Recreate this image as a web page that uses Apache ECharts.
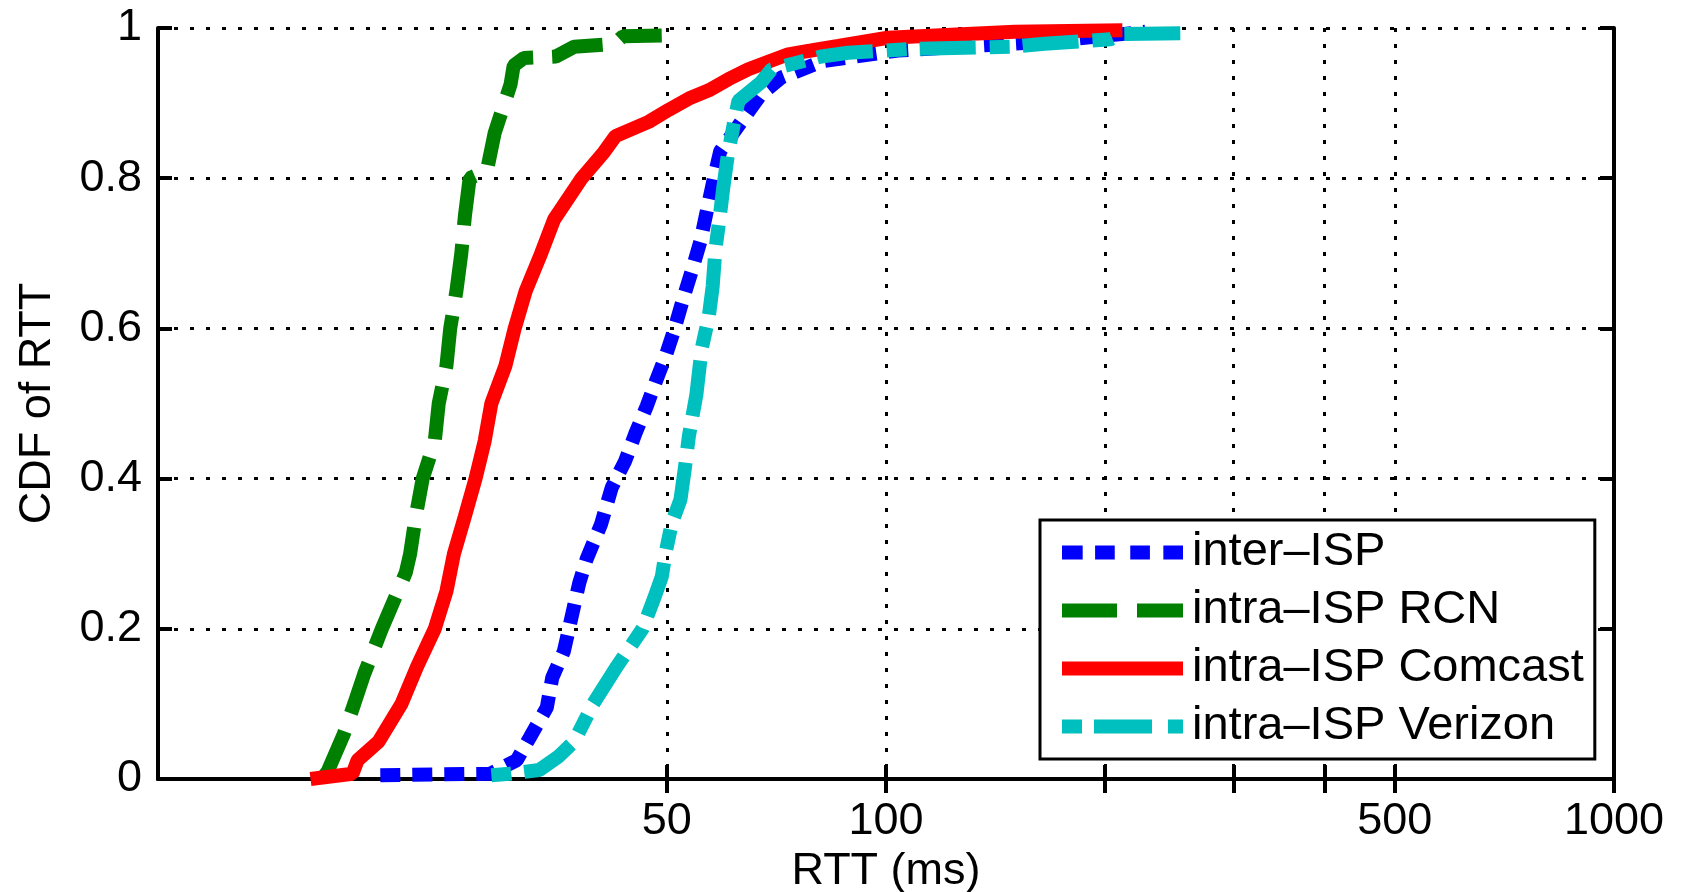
<!DOCTYPE html>
<html>
<head>
    <meta charset="utf-8" />
    <title>CDF of RTT</title>
    <script src="https://cdn.jsdelivr.net/npm/echarts/dist/echarts.min.js"></script>
</head>
<body style="margin:0;background:#fff">
    <div id="main" style="width:1681px;height:892px"></div>
    <script type="text/javascript">

        // RTT (ms) and CDF, one pair of arrays per curve
        var interRtt = [20.2, 28.6, 31.1, 32.4, 34.2, 34.8, 36.1, 37.9, 38.8, 40.6, 42.0, 43.8, 45.3, 46.9, 48.4, 49.8, 51.1, 52.7, 54.2, 55.6, 56.7, 58.0, 59.2, 65.1, 67.4, 71.8, 82.0, 103.8, 166.7, 227.1];
        var interCdf = [0.005, 0.007, 0.025, 0.055, 0.095, 0.135, 0.17, 0.261, 0.293, 0.339, 0.388, 0.423, 0.461, 0.496, 0.532, 0.563, 0.596, 0.641, 0.679, 0.716, 0.755, 0.799, 0.836, 0.892, 0.912, 0.934, 0.956, 0.97, 0.982, 0.995];

        var rcnRtt = [16.8, 17.1, 18.0, 18.6, 19.2, 20.3, 21.9, 22.2, 22.6, 23.1, 24.0, 24.3, 24.9, 25.2, 25.7, 26.1, 26.4, 26.8, 28.3, 29.0, 30.5, 30.8, 31.8, 35.2, 37.3, 42.4, 43.5, 49.2];
        var rcnCdf = [0, 0.01, 0.06, 0.1, 0.14, 0.2, 0.275, 0.3, 0.35, 0.4, 0.45, 0.5, 0.55, 0.6, 0.65, 0.7, 0.75, 0.8, 0.81, 0.86, 0.925, 0.95, 0.96, 0.962, 0.975, 0.979, 0.989, 0.99];

        var comcastRtt = [16.2, 18.5, 18.8, 20.1, 21.6, 22.7, 24.0, 24.9, 25.5, 26.4, 27.3, 28.1, 28.7, 30.0, 30.9, 32.0, 33.6, 35.0, 38.2, 41.0, 42.5, 47.2, 50.3, 53.6, 57.1, 60.8, 64.7, 68.9, 73.4, 78.9, 86.0, 100.6, 150.2, 211.2];
        var comcastCdf = [0, 0.007, 0.025, 0.05, 0.1, 0.15, 0.2, 0.25, 0.3, 0.35, 0.4, 0.45, 0.5, 0.55, 0.6, 0.65, 0.7, 0.745, 0.8, 0.835, 0.856, 0.875, 0.891, 0.906, 0.917, 0.932, 0.945, 0.955, 0.965, 0.97, 0.976, 0.987, 0.995, 0.997];

        var verizonRtt = [28.7, 30.4, 33.4, 35.5, 37.3, 39.6, 42.7, 46.3, 48.0, 49.2, 49.8, 50.8, 52.2, 52.9, 53.6, 54.9, 55.8, 57.1, 57.8, 58.3, 59.2, 59.8, 60.6, 61.7, 62.7, 67.4, 69.6, 81.5, 88.7, 108.2, 149.3, 165.1, 203.3, 211.2, 257.6];
        var verizonCdf = [0.005, 0.007, 0.012, 0.03, 0.05, 0.1, 0.15, 0.2, 0.24, 0.269, 0.301, 0.341, 0.372, 0.412, 0.456, 0.512, 0.572, 0.616, 0.656, 0.705, 0.754, 0.789, 0.829, 0.869, 0.903, 0.928, 0.945, 0.962, 0.967, 0.972, 0.975, 0.979, 0.985, 0.992, 0.993];

        var xTickValues = [50, 100, 200, 300, 400, 500, 1000];
        var xLabelValues = [50, 100, 500, 1000];

        var font = 'Liberation Sans';
        var black = '#000';

        // legend samples drawn as filled dash patterns, 121 x 14
        var iconDotted = 'path://M0 0H20V14H0Z M32 0H51V14H32Z M66 0H85V14H66Z M98 0H117V14H98Z';
        var iconDashed = 'path://M0 0H55V14H0Z M75 0H121V14H75Z';
        var iconSolid = 'path://M0 0H121V14H0Z';
        var iconDashDot = 'path://M0 0H20V14H0Z M32 0H90V14H32Z M106 0H121V14H106Z';

        function pairs(xs, ys) {
            return xs.map(function (x, i) {
                return [x, ys[i]];
            });
        }

        function curve(name, xs, ys, color, dash) {
            return {
                name: name,
                type: 'line',
                data: pairs(xs, ys),
                symbol: 'none',
                showSymbol: false,
                animation: false,
                itemStyle: { color: color },
                lineStyle: { color: color, width: 14, type: dash, cap: 'butt' }
            };
        }

        var axisLine = { show: true, lineStyle: { color: black, width: 4 } };
        var tick = { show: true, inside: true, length: 14, lineStyle: { color: black, width: 4 } };
        var dots = { show: true, lineStyle: { color: black, width: 3, type: [4, 12] } };
        var labelText = { color: black, fontFamily: font, fontSize: 45 };

        var chartDom = document.getElementById('main');
        var myChart = echarts.init(chartDom);
        var option;

        option = {
            backgroundColor: '#fff',
            animation: false,
            grid: { left: 158, right: 67, top: 28, bottom: 113, outerBoundsMode: 'none', containLabel: false },
            legend: {
                orient: 'vertical',
                left: 1040,
                top: 520,
                padding: [9, 11, 9, 22],
                itemGap: 11,
                itemWidth: 121,
                itemHeight: 14,
                symbolKeepAspect: false,
                borderColor: black,
                borderWidth: 3,
                backgroundColor: '#fff',
                selectedMode: false,
                itemStyle: { borderWidth: 0 },
                textStyle: { color: black, fontFamily: font, fontSize: 47, padding: [0, 0, 0, 4] },
                data: [
                    { name: 'inter\u2013ISP', icon: iconDotted },
                    { name: 'intra\u2013ISP RCN', icon: iconDashed },
                    { name: 'intra\u2013ISP Comcast', icon: iconSolid },
                    { name: 'intra\u2013ISP Verizon', icon: iconDashDot }
                ]
            },
            xAxis: [{
                type: 'log',
                logBase: 10,
                min: 10,
                max: 1000,
                position: 'bottom',
                axisLine: axisLine,
                axisTick: Object.assign({ customValues: xTickValues }, tick),
                axisLabel: Object.assign({
                    customValues: xLabelValues,
                    margin: 20,
                    formatter: function (v) { return String(Math.round(v)); }
                }, labelText),
                splitLine: dots,
                name: 'RTT (ms)',
                nameLocation: 'middle',
                nameGap: 67,
                nameTextStyle: labelText
            }, {
                type: 'log',
                logBase: 10,
                min: 10,
                max: 1000,
                position: 'top',
                axisLine: axisLine,
                axisTick: Object.assign({ customValues: xTickValues }, tick),
                axisLabel: { show: false },
                splitLine: { show: false }
            }],
            yAxis: [{
                type: 'value',
                min: 0,
                max: 1,
                interval: 0.2,
                position: 'left',
                axisLine: axisLine,
                axisTick: tick,
                axisLabel: Object.assign({ margin: 16 }, labelText),
                splitLine: dots,
                name: 'CDF of RTT',
                nameLocation: 'middle',
                nameGap: 98,
                nameTextStyle: labelText
            }, {
                type: 'value',
                min: 0,
                max: 1,
                interval: 0.2,
                position: 'right',
                axisLine: axisLine,
                axisTick: tick,
                axisLabel: { show: false },
                splitLine: { show: false }
            }],
            series: [
                curve('inter\u2013ISP', interRtt, interCdf, '#0000ff', [20, 12]),
                curve('intra\u2013ISP RCN', rcnRtt, rcnCdf, '#008000', [53, 19]),
                curve('intra\u2013ISP Comcast', comcastRtt, comcastCdf, '#ff0000', 'solid'),
                curve('intra\u2013ISP Verizon', verizonRtt, verizonCdf, '#00bfbf', [20, 13, 56, 14])
            ]
        };

        option && myChart.setOption(option);

    </script>
</body>
</html>
